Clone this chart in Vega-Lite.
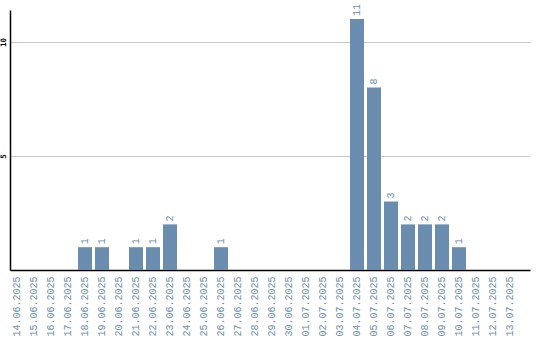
{
  "$schema": "https://vega.github.io/schema/vega-lite/v6.json",
  "autosize": "none",
  "width": 520,
  "height": 260,
  "padding": {"left": 10, "top": 10, "right": 10, "bottom": 70},
  "background": "white",
  "config": {"view": {"stroke": null}},
  "data": {"values": [
    {"date": "14.06.2025", "count": 0},
    {"date": "15.06.2025", "count": 0},
    {"date": "16.06.2025", "count": 0},
    {"date": "17.06.2025", "count": 0},
    {"date": "18.06.2025", "count": 1},
    {"date": "19.06.2025", "count": 1},
    {"date": "20.06.2025", "count": 0},
    {"date": "21.06.2025", "count": 1},
    {"date": "22.06.2025", "count": 1},
    {"date": "23.06.2025", "count": 2},
    {"date": "24.06.2025", "count": 0},
    {"date": "25.06.2025", "count": 0},
    {"date": "26.06.2025", "count": 1},
    {"date": "27.06.2025", "count": 0},
    {"date": "28.06.2025", "count": 0},
    {"date": "29.06.2025", "count": 0},
    {"date": "30.06.2025", "count": 0},
    {"date": "01.07.2025", "count": 0},
    {"date": "02.07.2025", "count": 0},
    {"date": "03.07.2025", "count": 0},
    {"date": "04.07.2025", "count": 11},
    {"date": "05.07.2025", "count": 8},
    {"date": "06.07.2025", "count": 3},
    {"date": "07.07.2025", "count": 2},
    {"date": "08.07.2025", "count": 2},
    {"date": "09.07.2025", "count": 2},
    {"date": "10.07.2025", "count": 1},
    {"date": "11.07.2025", "count": 0},
    {"date": "12.07.2025", "count": 0},
    {"date": "13.07.2025", "count": 0}
  ]},
  "encoding": {
    "x": {
      "field": "date", "type": "ordinal", "sort": null,
      "scale": {"paddingInner": 0.1765, "paddingOuter": 0.382, "align": 0},
      "axis": {
        "title": null, "ticks": false, "domainColor": "#000", "domainWidth": 1.5,
        "labelAngle": -90, "labelAlign": "right", "labelBaseline": "middle",
        "labelPadding": 6, "labelColor": "#6a8caf", "labelFont": "Liberation Mono",
        "labelFontSize": 10
      }
    },
    "y": {
      "field": "count", "type": "quantitative",
      "scale": {"domain": [0, 11.4], "nice": false},
      "axis": {
        "title": null, "values": [5, 10], "ticks": false, "domainColor": "#000", "domainWidth": 1.5,
        "gridColor": "#c8c8c8", "gridWidth": 1.2,
        "labelAngle": -90, "labelAlign": "center", "labelBaseline": "bottom",
        "labelPadding": 3, "labelColor": "#000", "labelFont": "DejaVu Sans Mono",
        "labelFontSize": 7.5, "labelFontWeight": "bold"
      }
    }
  },
  "layer": [
    {"mark": {"type": "bar", "color": "#6a8caf"}},
    {
      "transform": [{"filter": "datum.count > 0"}],
      "mark": {"type": "text", "angle": -90, "align": "left", "baseline": "middle", "dx": 3,
               "color": "#6a8caf", "font": "Liberation Mono", "fontSize": 10},
      "encoding": {"text": {"field": "count", "type": "quantitative"}}
    }
  ]
}
